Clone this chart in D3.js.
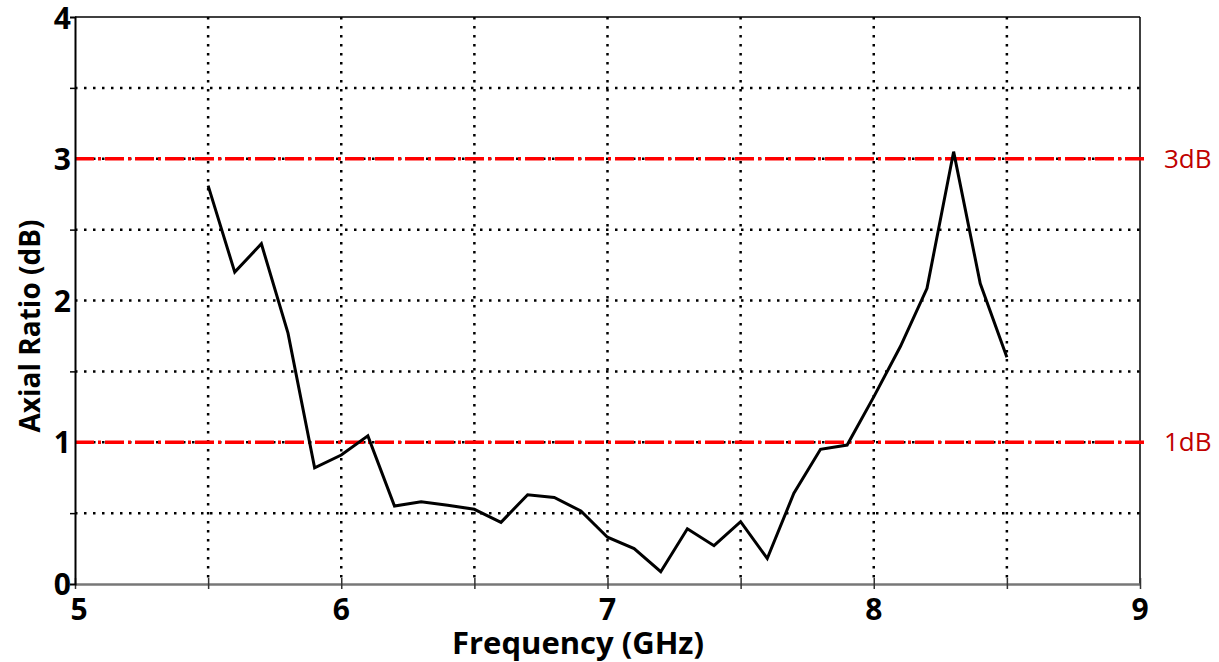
<!DOCTYPE html>
<html>
<head>
<meta charset="utf-8">
<script src="https://cdn.jsdelivr.net/npm/d3@7"></script>
<style>
    body { margin: 0; background: #fff; }
    svg { display: block; font-family: "Open Sans", sans-serif; }
</style>
</head>
<body>
<svg id="chart"></svg>
<script>
// frequency points (GHz) and measured axial ratio (dB)
var frequencies = [5.5, 5.6, 5.7, 5.8, 5.9, 6.0, 6.1, 6.2, 6.3, 6.4, 6.5,
    6.6, 6.7, 6.8, 6.9, 7.0, 7.1, 7.2, 7.3, 7.4, 7.5,
    7.6, 7.7, 7.8, 7.9, 8.0, 8.1, 8.2, 8.3, 8.4, 8.5];
var axialRatio = [2.81, 2.20, 2.40, 1.77, 0.82, 0.91, 1.045, 0.55, 0.58, 0.555, 0.527,
    0.435, 0.63, 0.61, 0.515, 0.33, 0.25, 0.087, 0.39, 0.27, 0.44,
    0.18, 0.64, 0.95, 0.98, 1.32, 1.675, 2.086, 3.05, 2.12, 1.60];
var xTicks = [5, 6, 7, 8, 9];
var yTicks = [0, 1, 2, 3, 4];
var xGrid = [5.5, 6, 6.5, 7, 7.5, 8, 8.5];
var yGrid = [0.5, 1, 1.5, 2, 2.5, 3, 3.5];
var refLevels = [3, 1];
var refLabels = ["3dB", "1dB"];

var width = 1219, height = 662;
var plotLeft = 75, plotRight = 1140, plotTop = 17, plotBottom = 584;

var svg = d3.select("#chart")
    .attr("width", width)
    .attr("height", height);

var x = d3.scaleLinear().domain([5, 9]).range([plotLeft, plotRight]);
var y = d3.scaleLinear().domain([0, 4]).range([plotBottom, plotTop]);

// dotted grid
svg.selectAll("line.vgrid")
    .data(xGrid)
    .enter().append("line")
    .attr("class", "vgrid")
    .attr("x1", d => x(d)).attr("x2", d => x(d))
    .attr("y1", y(4)).attr("y2", y(0))
    .attr("stroke", "#000")
    .attr("stroke-width", 2.5)
    .attr("stroke-dasharray", "2.5,6.5");

svg.selectAll("line.hgrid")
    .data(yGrid)
    .enter().append("line")
    .attr("class", "hgrid")
    .attr("x1", x(5)).attr("x2", x(9))
    .attr("y1", d => y(d)).attr("y2", d => y(d))
    .attr("stroke", "#000")
    .attr("stroke-width", 2.5)
    .attr("stroke-dasharray", "2.5,6.5");

// frame: top and right
svg.append("line")
    .attr("x1", x(5)).attr("x2", x(9))
    .attr("y1", y(4)).attr("y2", y(4))
    .attr("stroke", "#000").attr("stroke-width", 1.5);
svg.append("line")
    .attr("x1", x(9)).attr("x2", x(9))
    .attr("y1", y(4)).attr("y2", y(0))
    .attr("stroke", "#000").attr("stroke-width", 1.5);

// reference levels
svg.selectAll("line.ref")
    .data(refLevels)
    .enter().append("line")
    .attr("class", "ref")
    .attr("x1", x(5)).attr("x2", x(9) + 4)
    .attr("y1", d => y(d)).attr("y2", d => y(d))
    .attr("stroke", "#ff0000")
    .attr("stroke-width", 3.5)
    .attr("stroke-dasharray", "19,4,3,4");

svg.selectAll("text.reflabel")
    .data(refLevels)
    .enter().append("text")
    .attr("class", "reflabel")
    .attr("x", 1164)
    .attr("y", d => y(d) + 9)
    .attr("fill", "#c00000")
    .attr("font-size", 26)
    .text((d, i) => refLabels[i]);

// data line
var line = d3.line()
    .x((d, i) => x(frequencies[i]))
    .y(d => y(d));

svg.append("path")
    .datum(axialRatio)
    .attr("d", line)
    .attr("fill", "none")
    .attr("stroke", "#000")
    .attr("stroke-width", 3)
    .attr("stroke-linejoin", "miter");

// axes
var xAxis = svg.append("g")
    .attr("transform", "translate(0," + y(0) + ")")
    .call(d3.axisBottom(x).tickValues([5, 5.5, 6, 6.5, 7, 7.5, 8, 8.5, 9]).tickSize(0).tickFormat(""));
xAxis.select(".domain").attr("stroke", "#777").attr("stroke-width", 2.5);
xAxis.selectAll(".tick line").attr("y1", -6).attr("y2", 5).attr("stroke", "#333").attr("stroke-width", 1.5);

var yAxis = svg.append("g")
    .attr("transform", "translate(" + x(5) + ",0)")
    .call(d3.axisLeft(y).tickValues([0.5, 1.5, 2.5, 3.5]).tickSize(5).tickFormat(""));
yAxis.select(".domain").attr("stroke", "#000").attr("stroke-width", 2);
yAxis.selectAll(".tick line").attr("stroke", "#000").attr("stroke-width", 1.5);

svg.selectAll("text.xtick")
    .data(xTicks)
    .enter().append("text")
    .attr("class", "xtick")
    .attr("x", d => x(d) + (d === 5 ? 4 : 0))
    .attr("y", 620)
    .attr("text-anchor", "middle")
    .attr("font-size", 30)
    .attr("font-weight", "bold")
    .text(d => d);

svg.selectAll("text.ytick")
    .data(yTicks)
    .enter().append("text")
    .attr("class", "ytick")
    .attr("x", x(5) - 4)
    .attr("y", d => y(d) + 11 + (d === 4 ? 1 : 0))
    .attr("text-anchor", "end")
    .attr("font-size", 30)
    .attr("font-weight", "bold")
    .text(d => d);

svg.append("text")
    .attr("x", 578)
    .attr("y", 654)
    .attr("text-anchor", "middle")
    .attr("font-size", 31)
    .attr("font-weight", "bold")
    .text("Frequency (GHz)");

svg.append("text")
    .attr("transform", "translate(40,326) rotate(-90)")
    .attr("text-anchor", "middle")
    .attr("font-size", 28)
    .attr("font-weight", "bold")
    .text("Axial Ratio (dB)");
</script>
</body>
</html>
